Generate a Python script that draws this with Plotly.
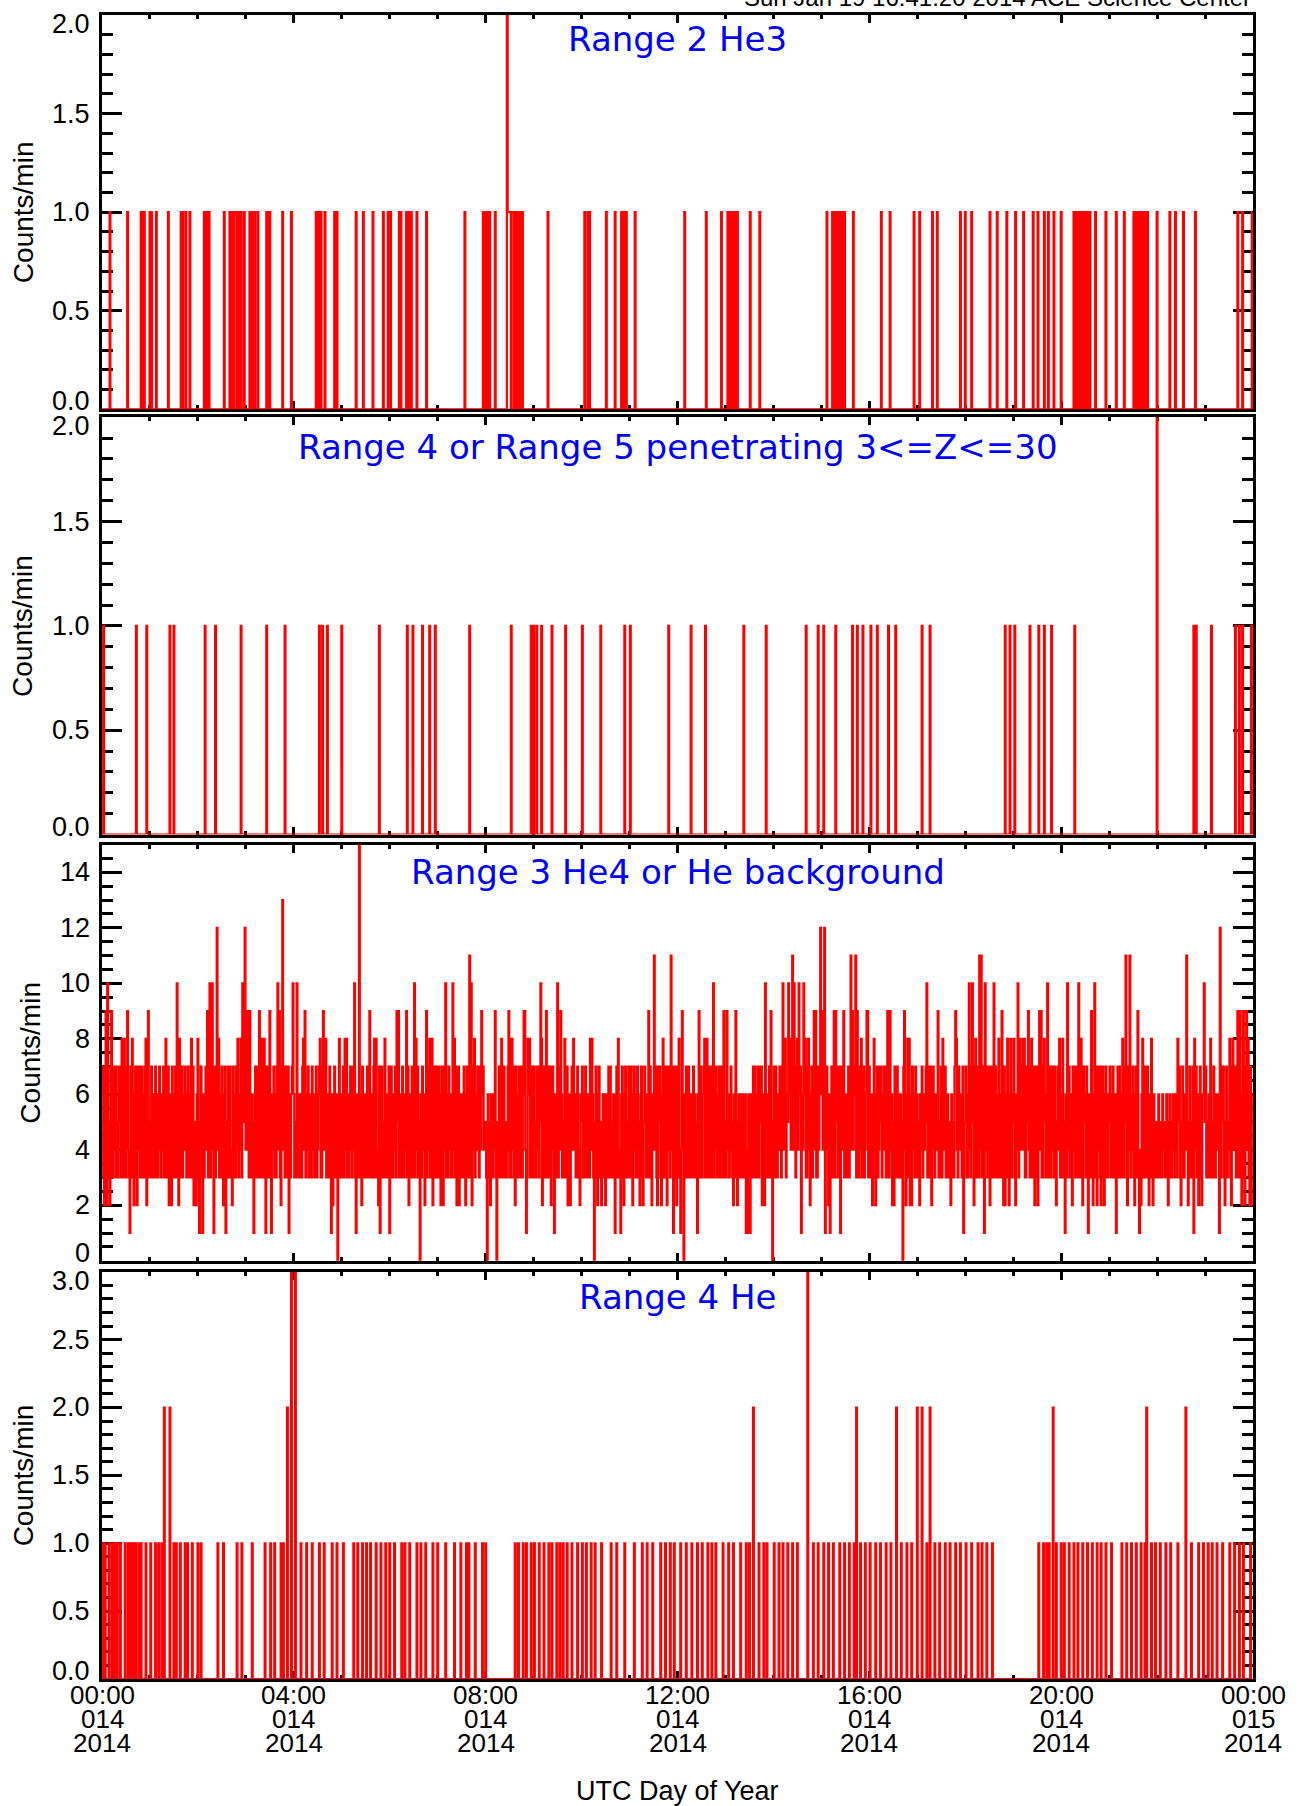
import plotly.graph_objects as go
from datetime import datetime, timedelta

# ---------------- text ----------------
panel_titles = ["Range 2 He3",
                "Range 4 or Range 5 penetrating 3<=Z<=30",
                "Range 3 He4 or He background",
                "Range 4 He"]
y_title = "Counts/min"
x_title = "UTC Day of Year"
header = "Sun Jan 19 16:41:20 2014 ACE Science Center"

tick_hours = [0, 4, 8, 12, 16, 20, 24]
tick_time_labels = ["00:00", "04:00", "08:00", "12:00", "16:00", "20:00", "00:00"]
tick_doy_labels = ["014", "014", "014", "014", "014", "014", "015"]
tick_year_labels = ["2014", "2014", "2014", "2014", "2014", "2014", "2014"]

# y tick values per panel
p1_yticks = [0.0, 0.5, 1.0, 1.5, 2.0]
p2_yticks = [0.0, 0.5, 1.0, 1.5, 2.0]
p3_yticks = [0, 2, 4, 6, 8, 10, 12, 14]
p4_yticks = [0.0, 0.5, 1.0, 1.5, 2.0, 2.5, 3.0]

# ---------------- data (minute of day -> counts) ----------------
# Range 2 He3: minutes with 1 count, minutes with 2 counts
he3_ones = [10, 32, 49, 50, 53, 60, 62, 68, 83, 99, 101, 105, 110, 128, 129, 131, 133, 134,
            153, 160, 161, 163, 164, 166, 167, 168, 170, 172, 174, 178, 185, 187, 189, 191,
            195, 206, 208, 210, 226, 237, 268, 270, 272, 274, 279, 291, 294, 318, 327, 339,
            352, 358, 361, 372, 374, 381, 383, 385, 387, 394, 406, 454, 477, 479, 482, 485,
            492, 508, 509, 510, 511, 513, 514, 515, 517, 518, 520, 521, 523, 524, 526, 558,
            604, 608, 610, 631, 642, 650, 652, 654, 656, 667, 729, 756, 775, 783, 785, 787,
            789, 791, 793, 795, 811, 823, 907, 914, 916, 918, 920, 922, 924, 926, 929, 940,
            975, 986, 1016, 1023, 1039, 1045, 1074, 1080, 1088, 1111, 1120, 1132, 1143, 1153,
            1165, 1171, 1179, 1184, 1191, 1200, 1216, 1219, 1222, 1225, 1228, 1231, 1234,
            1236, 1243, 1256, 1269, 1279, 1291, 1294, 1297, 1300, 1303, 1306, 1308, 1320,
            1336, 1343, 1353, 1368, 1421, 1427, 1439]
he3_twos = [507]

# Range 4 or 5 penetrating
pen_ones = [2, 43, 56, 85, 90, 129, 142, 174, 206, 229, 272, 276, 282, 300, 347, 382, 389,
            401, 410, 417, 460, 512, 537, 540, 544, 550, 563, 580, 601, 624, 654, 661, 709,
            737, 755, 803, 831, 881, 896, 903, 918, 939, 945, 952, 962, 970, 984, 993, 1026,
            1036, 1130, 1136, 1142, 1161, 1172, 1179, 1188, 1217, 1366, 1369, 1388, 1418,
            1423, 1427, 1438]
pen_twos = [1320]

# Range 3 He4 / He background, one row per hour (60 minutes each)
bg_counts = [
    6,7,3,2,7,9,2,10,3,5, 2,7,9,3,3,7,4,7,3,5, 3,7,5,7,3,8,5,3,8,6, 3,7,9,4,3,1,7,3,8,5, 2,6,7,3,2,7,4,7,3,6, 7,3,6,3,7,8,2,6,9,3,
    5,3,7,3,6,4,3,7,6,3, 3,6,7,4,3,6,4,7,3,5, 8,3,5,7,2,6,3,2,7,6, 3,5,7,3,10,4,2,8,3,6, 7,3,6,4,7,5,3,6,7,3, 6,3,8,3,7,2,5,3,2,6,
    8,3,1,5,7,3,1,6,3,6, 7,4,9,3,7,10,3,6,10,4, 1,7,3,7,12,4,8,3,6,3, 7,4,2,6,7,1,5,3,7,3, 7,4,3,2,7,3,6,3,7,4, 8,3,6,4,8,3,10,5,7,12,
    4,7,9,4,3,9,3,6,5,3, 1,6,7,3,7,4,3,9,3,6, 8,3,6,8,3,1,7,4,3,7, 9,3,1,6,4,7,3,6,3,7, 10,4,9,3,2,7,13,4,7,3, 6,7,3,7,1,6,3,6,7,10,
    6,3,5,3,10,4,3,6,3,6, 3,7,8,4,9,3,6,4,7,3, 6,4,3,7,4,6,3,5,7,3, 4,6,7,8,3,3,7,9,4,7, 8,3,6,3,5,7,3,1,6,2, 5,7,3,6,3,0,6,8,3,6,
    5,3,7,3,8,4,8,3,6,3, 4,7,5,3,7,4,10,3,1,6, 4,3,15,6,3,2,7,4,3,6, 5,3,7,4,3,9,3,6,4,3, 7,8,3,8,4,3,2,7,1,6, 7,3,5,3,8,4,3,6,3,7,
    1,6,7,3,3,6,4,7,3,9, 5,9,3,6,4,3,7,5,3,6, 4,9,3,7,2,6,3,5,7,3, 6,10,3,8,4,7,3,5,0,6, 3,7,4,6,2,5,9,3,7,4, 8,3,6,8,2,7,3,5,7,3,
    5,7,3,6,2,7,3,2,7,4, 10,3,6,3,7,4,6,3,3,10, 4,8,3,7,2,6,7,2,3,6, 3,6,3,7,4,2,6,7,3,5, 11,3,10,2,7,4,8,3,6,4, 7,5,3,7,4,9,6,7,4,4,
    5,3,0,6,3,5,2,6,4,3, 6,4,9,3,0,5,3,7,4,3, 8,3,6,7,3,5,3,4,7,9, 3,8,3,8,4,7,3,2,7,5, 3,6,7,3,6,7,3,6,9,9, 4,1,3,8,6,8,3,7,3,6,
    7,3,5,3,7,4,7,3,5,10, 8,2,6,7,3,5,9,3,7,3, 5,7,2,4,7,4,1,6,3,5, 10,3,7,4,9,6,3,5,3,8, 5,3,7,2,6,3,2,6,7,4, 8,4,6,3,3,7,4,3,2,6,
    5,7,3,3,6,7,3,3,6,6, 3,8,4,8,6,3,0,5,7,3, 2,6,7,3,5,2,3,6,3,6, 2,6,3,5,7,3,7,3,5,3, 6,3,1,6,7,3,8,4,3,1, 6,7,3,2,6,7,3,5,3,7,
    5,3,7,4,2,6,7,4,3,6, 7,3,5,2,6,7,3,2,5,7, 6,3,3,6,9,3,7,4,2,6, 4,11,4,7,3,2,7,5,7,3, 2,6,8,3,5,7,3,2,7,4, 7,3,11,4,7,1,5,7,3,2,
    7,3,8,4,1,4,9,5,0,6, 3,7,5,3,7,4,3,6,5,3, 7,3,6,5,3,1,6,9,3,7, 5,3,6,7,8,3,5,8,3,7, 6,3,7,4,3,10,3,6,7,4, 3,6,7,3,5,7,3,6,9,3,
    5,3,9,4,6,3,4,7,5,3, 2,6,3,9,5,2,4,6,3,4, 6,3,6,3,5,6,1,4,1,6, 4,1,6,3,5,7,3,7,5,3, 6,7,3,5,7,7,2,6,3,2, 10,3,6,3,6,7,3,9,4,0,
    5,7,3,7,5,3,6,4,7,4, 3,7,10,4,7,8,3,6,5,10, 6,8,4,7,11,4,10,6,3,7, 8,4,10,6,7,1,6,4,10,6, 8,3,3,7,8,4,2,6,7,3, 6,9,4,9,3,3,7,4,6,12,
    6,9,4,4,12,1,6,7,4,2, 6,1,6,7,3,5,9,3,9,5, 7,3,5,7,1,4,7,4,9,3, 6,4,3,6,7,3,6,11,4,9, 4,6,7,11,3,9,5,3,7,4, 8,3,5,7,3,4,6,9,9,3,
    7,4,3,6,2,5,8,3,2,6, 7,3,4,7,5,7,3,6,4,7, 5,3,7,9,3,3,9,4,6,2, 5,2,7,3,5,7,3,6,3,6, 5,3,0,7,9,4,2,6,8,3, 8,2,6,2,7,4,6,3,7,3,
    6,3,5,2,6,4,7,3,6,4, 5,7,10,3,7,4,3,7,2,5, 7,4,3,6,4,6,9,3,3,5, 7,3,8,4,6,7,3,5,6,3, 5,3,2,6,3,5,3,7,9,8, 4,3,7,4,6,5,3,7,1,5,
    5,7,3,3,6,10,4,3,7,10, 5,2,7,8,3,7,5,3,11,4, 11,3,4,7,1,10,4,7,3,3, 7,2,5,7,3,6,10,3,7,4, 3,6,8,3,3,6,9,3,2,7, 2,6,3,8,4,2,6,8,3,6,
    5,8,3,2,6,4,10,3,8,4, 4,7,8,4,8,3,3,7,5,9, 4,3,7,8,3,5,7,2,5,7, 3,2,7,9,4,9,3,3,7,8, 5,3,6,10,3,5,7,3,6,7, 4,3,7,5,2,4,7,4,8,3,
    6,3,8,3,5,1,6,3,10,4, 7,3,4,6,2,7,7,4,3,7, 5,3,10,4,3,8,3,2,7,5, 6,3,7,4,1,6,3,6,9,3, 2,6,10,3,7,2,7,4,7,3, 2,7,7,3,2,6,7,3,3,6,
    5,7,3,3,6,7,3,3,6,1, 5,7,3,7,4,3,6,8,3,7, 5,11,3,2,7,4,11,3,6,4, 7,3,2,6,7,3,9,4,1,4, 2,6,8,3,7,4,3,7,7,3, 2,6,3,8,4,2,6,5,3,3,
    5,3,6,4,3,5,3,6,5,4, 3,5,6,3,2,5,6,3,3,5, 6,4,3,6,5,3,8,5,7,3, 2,5,7,3,3,6,4,11,4,2, 5,7,3,5,3,7,1,8,4,7, 3,6,2,6,7,3,2,6,6,10,
    5,7,3,3,5,6,3,8,4,3, 5,7,3,3,6,4,4,6,1,12, 3,5,7,7,3,2,5,7,3,4, 5,8,3,2,7,8,4,4,7,3, 6,9,3,5,9,3,2,6,9,3, 2,7,9,4,8,3,2,7,6,2,
]

# Range 4 He
he4_ones = [1, 4, 9, 13, 16, 19, 23, 29, 33, 36, 39, 42, 46, 49, 55, 61, 67, 71, 75, 90, 93, 98,
            104, 107, 113, 120, 124, 145, 152, 169, 175, 188, 204, 211, 216, 224, 227, 249,
            256, 263, 272, 278, 288, 294, 302, 315, 320, 326, 331, 336, 343, 349, 355, 360,
            366, 375, 379, 385, 394, 399, 405, 414, 420, 430, 441, 449, 456, 459, 467, 476,
            480, 517, 521, 527, 531, 537, 541, 547, 553, 559, 563, 569, 573, 577, 582, 588,
            595, 601, 606, 612, 617, 625, 637, 644, 654, 666, 676, 682, 689, 699, 705, 711,
            716, 724, 731, 738, 745, 751, 758, 763, 768, 777, 784, 790, 799, 806, 810, 822,
            828, 832, 841, 847, 852, 858, 864, 870, 890, 896, 903, 909, 915, 923, 929, 935,
            941, 949, 955, 961, 968, 974, 981, 987, 1000, 1007, 1013, 1032, 1042, 1048, 1055,
            1061, 1068, 1074, 1081, 1088, 1096, 1101, 1107, 1114, 1172, 1178, 1182, 1185,
            1194, 1200, 1204, 1210, 1216, 1221, 1227, 1233, 1239, 1245, 1250, 1256, 1263,
            1276, 1282, 1288, 1294, 1300, 1305, 1313, 1318, 1324, 1331, 1337, 1346, 1363,
            1372, 1378, 1384, 1389, 1395, 1402, 1411, 1417, 1423, 1428, 1437]
he4_twos = [78, 85, 232, 815, 944, 994, 1020, 1026, 1036, 1190, 1307, 1356]
he4_threes = [237, 242, 883]

# ---------------- build series ----------------
T0 = datetime(2014, 1, 14, 0, 0)
T1 = datetime(2014, 1, 15, 0, 0)
N_MIN = 1440


def counts_from_events(ones, twos=(), threes=()):
    y = [0] * N_MIN
    for m in ones:
        y[m] = 1
    for m in twos:
        y[m] = 2
    for m in threes:
        y[m] = 3
    return y


series = [
    counts_from_events(he3_ones, he3_twos),
    counts_from_events(pen_ones, pen_twos),
    list(bg_counts),
    counts_from_events(he4_ones, he4_twos, he4_threes),
]

# ---------------- geometry ----------------
W, H = 1299, 1806
PL, PR = 102, 1253
PT, PB = 12, 1679
panel_px = [(12, 407), (415, 833), (843, 1260), (1271, 1679)]
title_px = [36, 445, 871, 1296]
ylab_x_px = [23, 23, 31, 23]
y_ranges = [[0, 2], [0, 2], [0, 15], [0, 3]]
y_major = [0.5, 0.5, 2, 0.5]
y_minor = [0.1, 0.1, 0.5, 0.1]
y_ticks = [p1_yticks, p2_yticks, p3_yticks, p4_yticks]
y_fmt = ["{:.1f}", "{:.1f}", "{:d}", "{:.1f}"]


def py(y):
    return (PB - y) / (PB - PT)


LABEL_FONT = dict(family="Liberation Sans, Arial, sans-serif", size=27, color="black")
TITLE_FONT = dict(family="DejaVu Sans, Verdana, sans-serif", size=34, color="#0000FF")

fig = go.Figure()
annotations = []
layout = {}
for i in range(4):
    n = "" if i == 0 else str(i + 1)
    ys = series[i]
    xs = [T0 + timedelta(minutes=m) for m in range(len(ys))]
    fig.add_trace(go.Scatter(
        x=xs, y=ys, mode="lines",
        line=dict(color="#FF0000", width=2.2, shape="hvh"),
        xaxis="x" + n, yaxis="y" + n, showlegend=False, hoverinfo="skip"))
    top, bot = panel_px[i]
    layout["xaxis" + n] = dict(
        domain=[0, 1], anchor="y" + n, type="date", range=[T0, T1],
        showline=True, linecolor="black", linewidth=3, mirror="ticks",
        ticks="inside", ticklen=8, tickwidth=2.5, tickcolor="black",
        tickvals=[T0 + timedelta(hours=h) for h in tick_hours],
        showticklabels=False, showgrid=False, zeroline=False,
        minor=dict(dtick=3600000, ticks="inside", ticklen=4, tickwidth=2.5,
                   tickcolor="black", showgrid=False),
        layer="below traces", fixedrange=True)
    layout["yaxis" + n] = dict(
        domain=[py(bot), py(top)], anchor="x" + n, range=y_ranges[i],
        showline=True, linecolor="black", linewidth=3, mirror="ticks",
        ticks="inside", ticklen=20, tickwidth=3, tickcolor="black",
        tick0=0, dtick=y_major[i], showticklabels=False,
        showgrid=False, zeroline=False,
        minor=dict(dtick=y_minor[i], ticks="inside", ticklen=11, tickwidth=2.5,
                   tickcolor="black", showgrid=False),
        layer="below traces", fixedrange=True)
    # y tick labels
    for v in y_ticks[i]:
        shift = 0
        if v == y_ranges[i][0]:
            shift = 8
        elif v == y_ranges[i][1]:
            shift = -9
        annotations.append(dict(
            text=y_fmt[i].format(v), xref="paper", x=0, xshift=-10, xanchor="right",
            yref="y" + n, y=v, yanchor="middle", yshift=shift,
            showarrow=False, font=LABEL_FONT))
    # y axis title
    annotations.append(dict(
        text=y_title, textangle=-90, xref="paper", x=0, xshift=-(PL - ylab_x_px[i]),
        xanchor="center", yref="paper", y=py((top + bot) / 2), yanchor="middle",
        showarrow=False, font=dict(LABEL_FONT, size=28)))
    # panel title
    annotations.append(dict(
        text=panel_titles[i], xref="paper", x=0.5, xanchor="center",
        yref="paper", y=py(title_px[i]), yanchor="middle",
        showarrow=False, font=TITLE_FONT))

# x tick labels (three lines, tight line spacing as in the reference)
for h, a, b, c in zip(tick_hours, tick_time_labels, tick_doy_labels, tick_year_labels):
    for txt, dy in ((a, 16), (b, 40), (c, 64)):
        annotations.append(dict(
            text=txt, xref="x4", x=T0 + timedelta(hours=h), xanchor="center",
            yref="paper", y=0, yanchor="middle", yshift=-dy,
            showarrow=False, font=dict(LABEL_FONT, size=26)))

annotations.append(dict(
    text=x_title, xref="paper", x=0.5, xanchor="center", yref="paper", y=0,
    yanchor="middle", yshift=-112, showarrow=False, font=LABEL_FONT))
annotations.append(dict(
    text=header, xref="paper", x=1, xanchor="right", yref="paper", y=1,
    yanchor="middle", yshift=18, showarrow=False,
    font=dict(LABEL_FONT, size=24)))

fig.update_layout(
    width=W, height=H,
    margin=dict(l=PL, r=W - PR, t=PT, b=H - PB, pad=0),
    paper_bgcolor="white", plot_bgcolor="white",
    annotations=annotations, **layout)

fig.write_html("out.html", config={"displayModeBar": False},
               post_script="document.body.style.margin='0';document.body.style.overflow='hidden';")
